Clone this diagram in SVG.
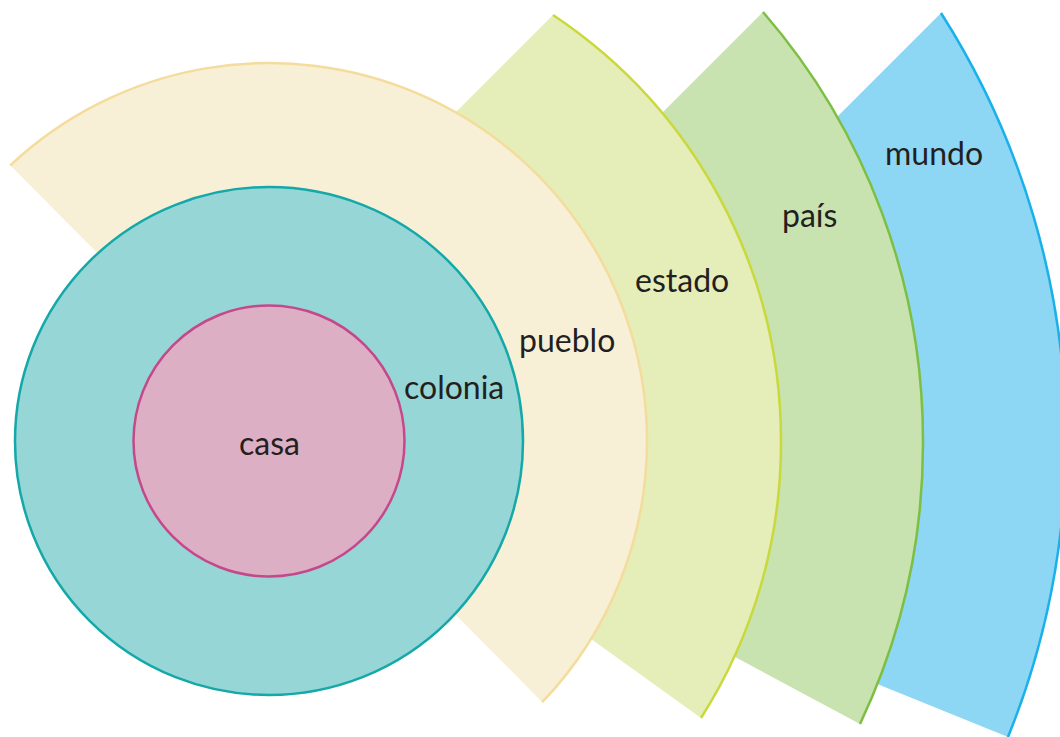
<svg xmlns="http://www.w3.org/2000/svg" width="1060" height="737" viewBox="0 0 1060 737">
<style>
.lbl{font-family:Lato,"Open Sans","Liberation Sans",sans-serif;font-size:32px;fill:#231f20}
.arc{fill:none;stroke-width:2.5}
</style>
<rect width="1060" height="737" fill="#ffffff"/>
<g id="mundo">
<path d="M941,13 A797,797 0 0 1 1066,441 A797,797 0 0 1 1008,737 L700,612 L700,254 Z" fill="#8dd7f5"/>
<path class="arc" d="M941,13 A797,797 0 0 1 1066,441 A797,797 0 0 1 1008,737" stroke="#1ab0ea"/>
<text class="lbl" x="885" y="165">mundo</text>
</g>
<g id="pais">
<path d="M763,12 A655,655 0 0 1 923,441 A655,655 0 0 1 860,724 L560,563 L560,215 Z" fill="#c8e2b0"/>
<path class="arc" d="M763,12 A655,655 0 0 1 923,441 A655,655 0 0 1 860,724" stroke="#7dbf42"/>
<text class="lbl" x="782" y="227">país</text>
</g>
<g id="estado">
<path d="M553,15 A512,512 0 0 1 781,441 A512,512 0 0 1 701,718 L420,516 L420,148 Z" fill="#e5edb8"/>
<path class="arc" d="M553,15 A512,512 0 0 1 781,441 A512,512 0 0 1 701,718" stroke="#c9d93a"/>
<text class="lbl" x="635" y="292">estado</text>
</g>
<g id="pueblo">
<path d="M10.3,165.4 A378,378 0 0 1 647,441 A378,378 0 0 1 542.2,702.2 L269,426 Z" fill="#f8f0d6"/>
<path class="arc" d="M10.3,165.4 A378,378 0 0 1 647,441 A378,378 0 0 1 542.2,702.2" stroke="#f3dc9c"/>
<text class="lbl" x="519" y="352">pueblo</text>
</g>
<g id="colonia">
<circle cx="269" cy="441" r="254" fill="#96d6d6" stroke="#14a8a8" stroke-width="2.5"/>
<text class="lbl" x="404" y="399">colonia</text>
</g>
<g id="casa">
<circle cx="269" cy="441" r="135.5" fill="#dcafc4" stroke="#c4488a" stroke-width="2.5"/>
<text class="lbl" x="239" y="455">casa</text>
</g>
<g id="connectors"></g>
</svg>
